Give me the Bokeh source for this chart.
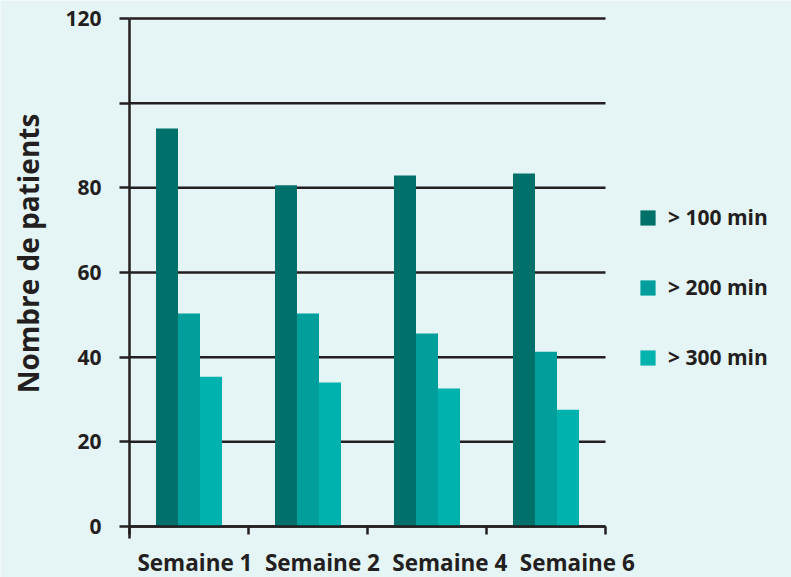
import math
from bokeh.plotting import figure
from bokeh.models import (ColumnDataSource, FixedTicker, Legend, LegendItem, Range1d, Label)
from bokeh.transform import dodge
from bokeh.embed import file_html
from bokeh.resources import INLINE

# ---- data ----
weeks = ["Semaine 1", "Semaine 2", "Semaine 4", "Semaine 6"]
series_names = ["> 100 min", "> 200 min", "> 300 min"]
over_100 = [94.0, 80.6, 82.9, 83.4]
over_200 = [50.3, 50.3, 45.6, 41.3]
over_300 = [35.4, 34.0, 32.6, 27.6]
y_ticks = [0, 20, 40, 60, 80, 100, 120]
y_tick_labels = ["0", "20", "40", "60", "80", "", "120"]
y_title = "Nombre de patients"

colors = ["#00706b", "#009f9c", "#00b2ad"]
BG = "#e5f4f4"
INK = "#231f20"
FONT = "Open Sans"

W, H = 791, 577
# plot area (pixels) of the axes box inside the canvas
L, R, T, B = 129, 605, 18, 526
n = len(weeks)
ymax = 120
xpx = (R - L) / n
ypx = (B - T) / ymax

xpos = [i + 0.5 for i in range(n)]
# category labels are set a little wider apart than the categories themselves
label_start, label_pitch = 0.55, 1.071
label_pos = [label_start + i * label_pitch for i in range(n)]

src = ColumnDataSource(dict(x=xpos, a=over_100, b=over_200, c=over_300))

p = figure(width=W, height=H, output_backend="svg", toolbar_location=None,
           x_range=Range1d(-L / xpx, n + (W - R) / xpx),
           y_range=Range1d(-(H - B) / ypx, ymax + T / ypx),
           min_border=0)
p.background_fill_color = BG
p.border_fill_color = BG
p.outline_line_color = None
p.grid.visible = False

# horizontal grid lines spanning the axes box only
p.segment(x0=[0] * len(y_ticks), x1=[n] * len(y_ticks), y0=y_ticks, y1=y_ticks,
          line_color=INK, line_width=2.5)

bw = 0.185
r1 = p.vbar(x=dodge("x", -bw, range=p.x_range), top="a", width=bw, source=src,
            fill_color=colors[0], line_color=None)
r2 = p.vbar(x=dodge("x", 0, range=p.x_range), top="b", width=bw, source=src,
            fill_color=colors[1], line_color=None)
r3 = p.vbar(x=dodge("x", bw, range=p.x_range), top="c", width=bw, source=src,
            fill_color=colors[2], line_color=None)

# y axis
ya = p.yaxis[0]
ya.fixed_location = 0
ya.bounds = (-12 / ypx, ymax)
ya.ticker = FixedTicker(ticks=y_ticks)
ya.major_label_overrides = {t: l for t, l in zip(y_ticks, y_tick_labels)}
ya.axis_line_color = INK
ya.axis_line_width = 2.5
ya.major_tick_line_color = INK
ya.major_tick_line_width = 2.5
ya.major_tick_out = 10
ya.major_tick_in = 0
ya.minor_tick_line_color = None
ya.major_label_standoff = 18
ya.major_label_text_font = FONT
ya.major_label_text_font_style = "bold"
ya.major_label_text_font_size = "21px"
ya.major_label_text_color = INK

# x axis
xa = p.xaxis[0]
xa.fixed_location = 0
xa.bounds = (0, n)
xa.ticker = FixedTicker(ticks=label_pos, minor_ticks=list(range(n + 1)))
xa.major_label_overrides = {x: w for x, w in zip(label_pos, weeks)}
xa.axis_line_color = INK
xa.axis_line_width = 2.5
xa.major_tick_line_color = None
xa.major_tick_out = 0
xa.major_tick_in = 0
xa.minor_tick_line_color = INK
xa.minor_tick_line_width = 2.5
xa.minor_tick_out = 8
xa.minor_tick_in = 0
xa.major_label_standoff = 12
xa.major_label_text_font = FONT
xa.major_label_text_font_style = "bold"
xa.major_label_text_font_size = "22.5px"
xa.major_label_text_color = INK

# y title
title = Label(x=(27 - L) / xpx, y=(B - 253) / ypx, text=y_title, angle=math.pi / 2,
              text_align="center", text_baseline="middle", text_font=FONT,
              text_font_style="bold", text_font_size="28px", text_color=INK)
p.add_layout(title)

legend = Legend(items=[LegendItem(label=s, renderers=[r]) for s, r in zip(series_names, [r1, r2, r3])],
                location=(638, H - 371), orientation="vertical")
legend.background_fill_alpha = 0
legend.border_line_alpha = 0
legend.padding = 0
legend.margin = 0
legend.spacing = 42
legend.glyph_width = 19
legend.glyph_height = 19
legend.label_standoff = 11
legend.label_text_font = FONT
legend.label_text_font_style = "bold"
legend.label_text_font_size = "21px"
legend.label_text_color = INK
p.add_layout(legend, "center")

open("out.html", "w").write(file_html(p, INLINE))
